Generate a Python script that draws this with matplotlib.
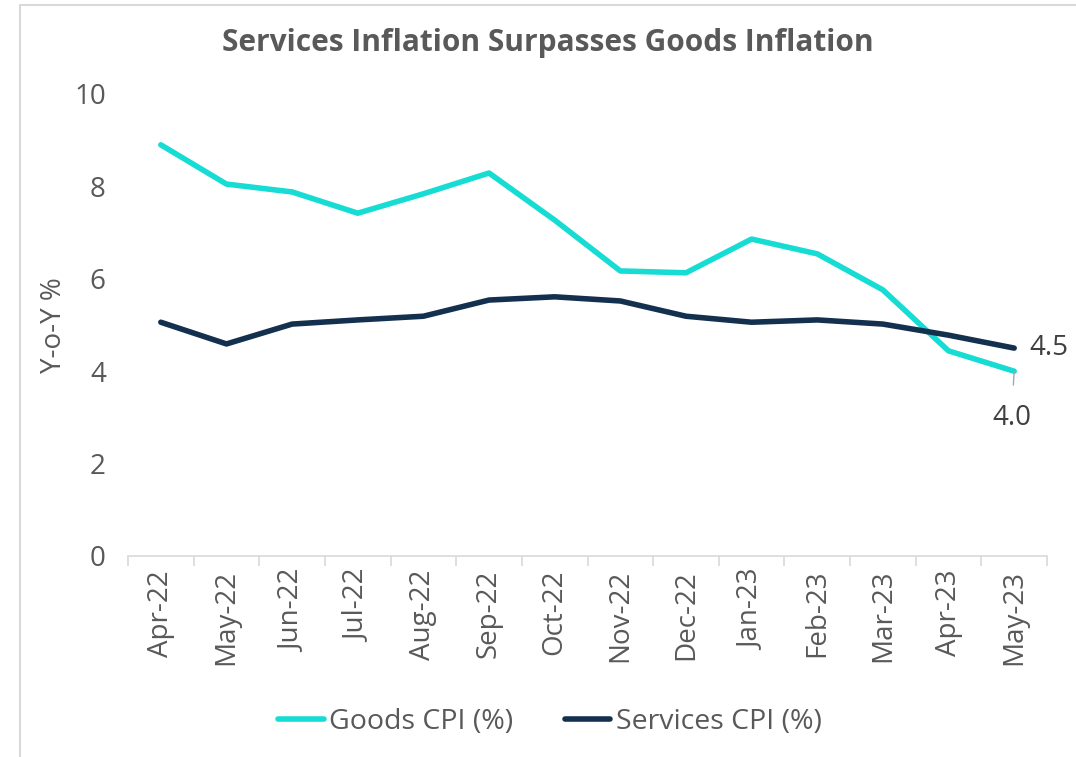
import matplotlib
matplotlib.use("Agg")
import matplotlib.pyplot as plt
from matplotlib.patches import Rectangle

months = ["Apr-22", "May-22", "Jun-22", "Jul-22", "Aug-22", "Sep-22", "Oct-22",
          "Nov-22", "Dec-22", "Jan-23", "Feb-23", "Mar-23", "Apr-23", "May-23"]
goods_cpi = [8.9, 8.05, 7.88, 7.42, 7.84, 8.29, 7.27, 6.17, 6.13, 6.86, 6.54, 5.76, 4.44, 4.0]
services_cpi = [5.06, 4.59, 5.02, 5.11, 5.19, 5.54, 5.61, 5.52, 5.19, 5.06, 5.11, 5.02, 4.78, 4.5]
yticks = [0, 2, 4, 6, 8, 10]

plt.rcParams['font.family'] = ['Open Sans', 'DejaVu Sans']
TEXT = "#595959"
GOODS = "#17dcd4"
SERV = "#13304f"

W, H = 1076, 757
fig = plt.figure(figsize=(W / 100, H / 100), dpi=100)
fig.patches.append(Rectangle((20 / W, -0.1), 1.2, 1 - 5 / H + 0.1, transform=fig.transFigure,
                             fill=False, edgecolor="#d9d9d9", linewidth=1.5))

ax = fig.add_axes([128 / W, 1 - 556 / H, (1047 - 128) / W, (556 - 94) / H])
x = list(range(len(months)))
ax.plot(x, goods_cpi, color=GOODS, lw=4, solid_joinstyle="round", solid_capstyle="round",
        label="Goods CPI (%)")
ax.plot(x, services_cpi, color=SERV, lw=4, solid_joinstyle="round", solid_capstyle="round",
        label="Services CPI (%)")

ax.set_xlim(-0.5, len(months) - 0.5)
ax.set_ylim(0, 10)
ax.set_yticks(yticks)
ax.set_yticklabels([str(v) for v in yticks], fontsize=20, color=TEXT)
ax.set_xticks(x)
ax.set_xticklabels(months, rotation=90, fontsize=20, color=TEXT)
ax.set_xticks([i - 0.5 for i in range(len(months) + 1)], minor=True)
ax.tick_params(axis="x", which="major", length=0, pad=10)
ax.tick_params(axis="x", which="minor", length=7, color="#d9d9d9", width=1.2)
ax.tick_params(axis="y", length=0, pad=16)
for s in ["left", "right", "top"]:
    ax.spines[s].set_visible(False)
ax.spines["bottom"].set_color("#d9d9d9")
ax.spines["bottom"].set_linewidth(1.2)

ax.set_ylabel("Y-o-Y %", fontsize=20, color=TEXT, labelpad=4)

# annotations for last points
last = len(months) - 1
ax.annotate(f"{services_cpi[-1]:.1f}", xy=(last, services_cpi[-1]), xytext=(11, 0),
            textcoords="offset points", fontsize=20, color="#404040", va="center", ha="left")
ax.annotate(f"{goods_cpi[-1]:.1f}", xy=(last, goods_cpi[-1]), xytext=(-2, -34),
            textcoords="offset points", fontsize=20, color="#404040", va="center", ha="center",
            arrowprops=dict(arrowstyle="-", color="#a6a6a6", lw=1, shrinkA=12, shrinkB=0))

fig.text(548 / W, 1 - 43 / H, "Services Inflation Surpasses Goods Inflation",
         fontsize=21.5, fontweight="bold", color=TEXT, ha="center", va="center")

leg = fig.legend(loc="center", bbox_to_anchor=(550 / W, 1 - 722 / H), ncol=2, frameon=False,
                 fontsize=20.5, handlelength=1.6, handletextpad=0.2, columnspacing=1.8)
for t in leg.get_texts():
    t.set_color(TEXT)

fig.savefig("out.png", dpi=100)
